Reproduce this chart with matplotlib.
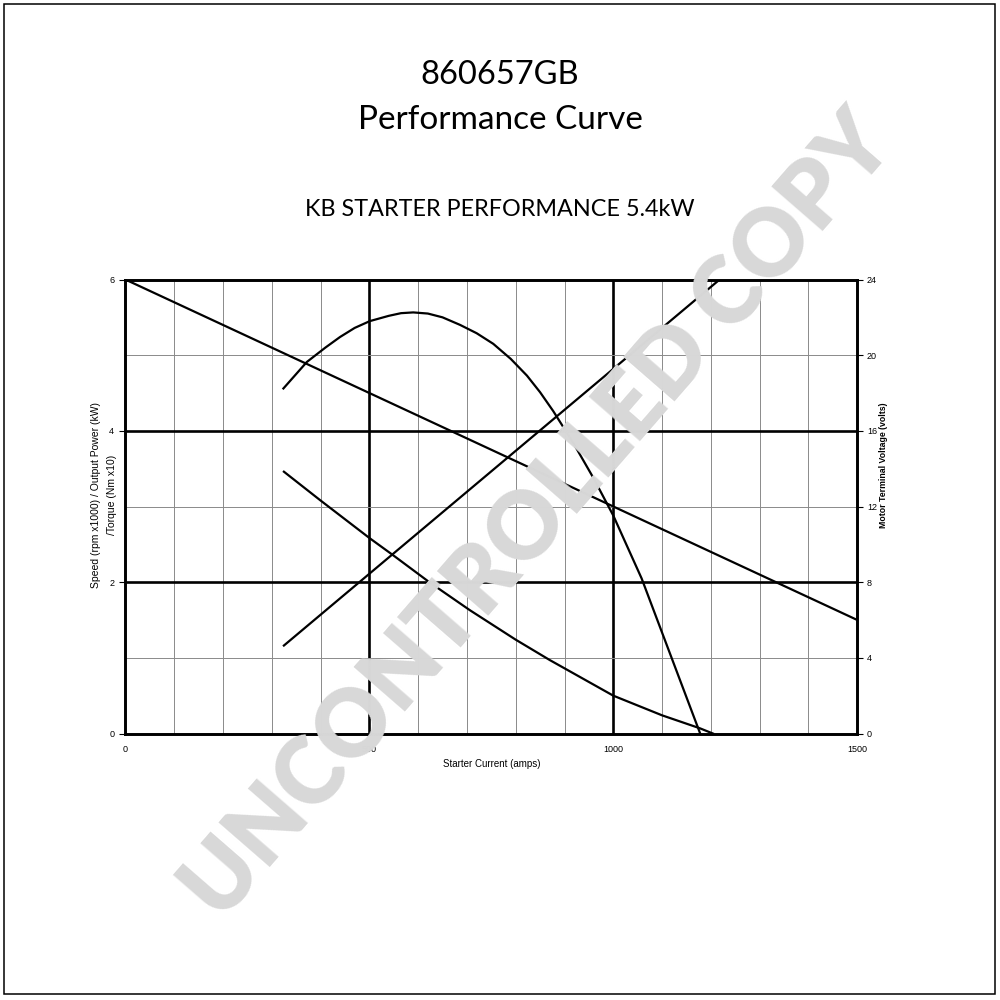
import matplotlib
matplotlib.use("Agg")
import matplotlib.pyplot as plt
from matplotlib.patches import Rectangle

# Performance data for the 5.4 kW starter (x = starter current in amps)
speed_amps = [0, 1500]
speed_krpm = [6.0, 1.5]

power_amps = [324, 372, 410, 440, 470, 501, 540, 565, 590, 620, 650, 686, 720,
              754, 790, 823, 850, 877, 918, 959, 1000, 1058, 1178]
power_kw = [4.56, 4.91, 5.10, 5.24, 5.36, 5.45, 5.52, 5.555, 5.565, 5.55, 5.50,
            5.40, 5.29, 5.15, 4.95, 4.73, 4.51, 4.26, 3.84, 3.38, 2.88, 2.05, 0.0]

torque_amps = [325, 400, 501, 548, 623, 706, 800, 870, 1000, 1100, 1177, 1204]
torque_nm10 = [3.46, 3.08, 2.58, 2.36, 2.00, 1.63, 1.24, 0.97, 0.50, 0.24, 0.07, 0.0]

volt_amps = [325, 1218]
volt_v = [4.65, 24.0]

x_ticks = [0, 500, 1000, 1500]
left_ticks = [0, 2, 4, 6]
right_ticks = [0, 4, 8, 12, 16, 20, 24]

fig = plt.figure(figsize=(10, 10), dpi=100)
fig.patch.set_facecolor("white")

# page frame
fig.add_artist(Rectangle((0.004, 0.006), 0.991, 0.99, transform=fig.transFigure,
                         fill=False, edgecolor="black", linewidth=1.1))

title_font = "Lato"
fig.text(0.5, 0.925, "860657GB", ha="center", va="center", fontsize=23.5,
         family=title_font)
fig.text(0.5, 0.88, "Performance Curve", ha="center", va="center", fontsize=24,
         family=title_font)
fig.text(0.5, 0.79, "KB STARTER PERFORMANCE 5.4kW", ha="center", va="center",
         fontsize=16.8, family=title_font)

ax = fig.add_axes([0.1253, 0.2665, 0.732, 0.454])
ax.set_xlim(0, 1500)
ax.set_ylim(0, 6)

# grid: thin grey every 100 A / 1 unit, heavy black at 500 A steps and 2 units
for xv in range(100, 1500, 100):
    if xv % 500 == 0:
        ax.axvline(xv, color="black", lw=1.9, zorder=1)
    else:
        ax.axvline(xv, color="#8a8a8a", lw=0.7, zorder=1)
for yv in range(1, 6):
    if yv % 2 == 0:
        ax.axhline(yv, color="black", lw=1.9, zorder=1)
    else:
        ax.axhline(yv, color="#8a8a8a", lw=0.7, zorder=1)

for s in ax.spines.values():
    s.set_linewidth(1.9)

lw = 1.6
ax.plot(speed_amps, speed_krpm, color="black", lw=lw, zorder=3)
ax.plot(power_amps, power_kw, color="black", lw=lw, zorder=3)
ax.plot(torque_amps, torque_nm10, color="black", lw=lw, zorder=3)

tick_font = "Liberation Sans"
ax.set_xticks(x_ticks)
ax.set_xticklabels([str(v) for v in x_ticks], family=tick_font, fontsize=6.5)
ax.set_yticks(left_ticks)
ax.set_yticklabels([str(v) for v in left_ticks], family=tick_font, fontsize=6.5)
ax.tick_params(axis="x", length=0, pad=8)
ax.tick_params(axis="y", length=4, width=0.8, pad=4)
ax.set_xlabel("Starter Current (amps)", family=tick_font, fontsize=7, labelpad=4)

ax2 = ax.twinx()
ax2.set_ylim(0, 24)
ax2.set_yticks(right_ticks)
ax2.set_yticklabels([str(v) for v in right_ticks], family=tick_font, fontsize=6.5)
ax2.tick_params(axis="y", length=4, width=0.8, pad=3)
for s in ax2.spines.values():
    s.set_linewidth(1.9)
ax2.plot(volt_amps, volt_v, color="black", lw=lw, zorder=3, clip_on=True)

fig.text(0.096, 1 - 0.495, "Speed (rpm x1000) / Output Power (kW)", rotation=90,
         ha="center", va="center", family=tick_font, fontsize=7.5)
fig.text(0.112, 1 - 0.495, "/Torque (Nm x10)", rotation=90,
         ha="center", va="center", family=tick_font, fontsize=7.5)
fig.text(0.883, 1 - 0.465, "Motor Terminal Voltage (volts)", rotation=90,
         ha="center", va="center", family=tick_font, fontsize=6.3,
         fontweight="bold")

# watermark
fig.text(0.539, 0.483, "UNCONTROLLED COPY", rotation=49, ha="center",
         va="center", rotation_mode="anchor", fontsize=66, fontweight="heavy",
         family="Lato", color="#d8d8d8", zorder=20)

fig.savefig("out.png", dpi=100, facecolor="white")
